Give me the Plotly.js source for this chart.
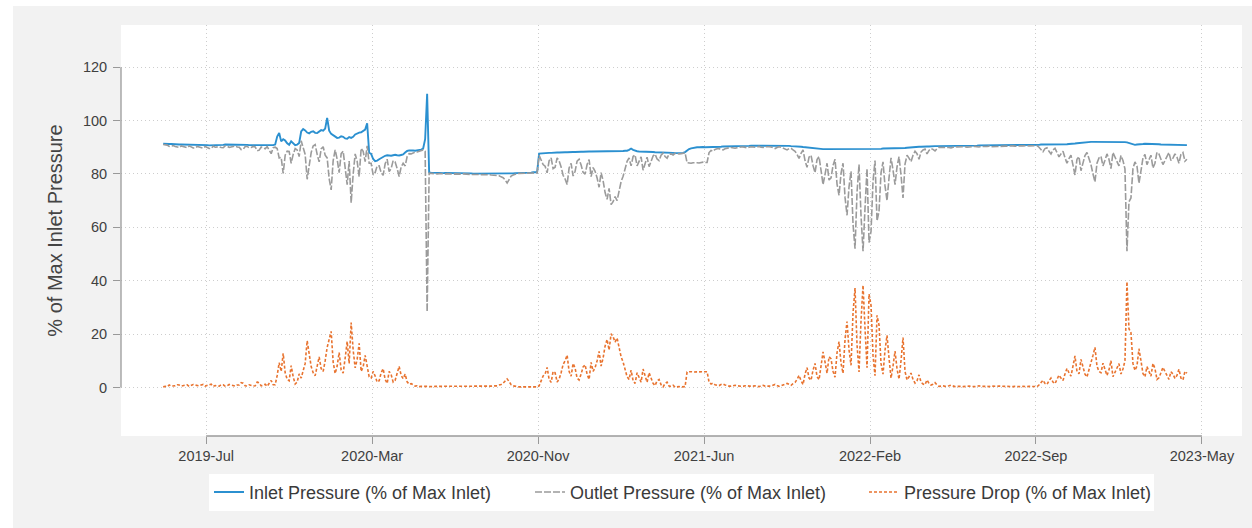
<!DOCTYPE html>
<html>
<head>
<meta charset="utf-8">
<script src="https://cdn.plot.ly/plotly-3.0.1.min.js"></script>
<style>
html,body{margin:0;padding:0;background:#ffffff;}
#chart{position:absolute;left:13px;top:6px;width:1239px;height:522px;}
</style>
</head>
<body>
<div id="chart"></div>
<script>
// ---- data ----
const START_DATE = [2019, 4, 29];   // first reading: 2019-05-29
const STEP_DAYS = 2.795;            // spacing of the readings, days

const tickDates = ['2019-07-28','2020-03-16','2020-11-03','2021-06-23','2022-02-10','2022-09-30','2023-05-20'];
const tickLabels = ['2019-Jul','2020-Mar','2020-Nov','2021-Jun','2022-Feb','2022-Sep','2023-May'];
const yTickVals = [0, 20, 40, 60, 80, 100, 120];

const inletPressure = [
91.3,91.2,91.2,91.2,91.2,91.1,91.1,91.0,91.0,91.0,91.0,90.9,90.9,90.9,90.9,90.8,90.8,90.9,90.9,90.8,90.8,90.8,90.8,90.7,90.7,90.8,90.8,90.8,90.9,90.9,90.9,91.0,91.0,91.0,91.0,91.1,91.1,91.0,91.0,90.9,90.9,90.9,90.9,90.8,90.8,90.8,90.8,90.7,90.7,90.7,90.7,90.6,90.6,90.6,90.6,90.8,
91.0,94.0,95.3,92.2,93.0,92.5,91.5,90.9,92.2,91.3,90.8,91.0,91.6,95.9,96.8,96.3,95.5,95.2,95.8,96.0,95.4,95.3,95.9,96.4,96.2,97.0,101.0,96.2,95.0,94.5,94.2,93.5,93.6,94.1,93.9,93.3,93.2,93.8,93.5,93.9,94.8,95.2,95.5,95.6,96.2,96.6,99.0,88.0,
87.5,85.6,84.8,85.0,85.5,86.0,86.5,86.8,87.0,86.9,86.8,87.0,87.2,87.0,86.9,87.1,87.3,88.0,88.6,88.8,88.9,88.8,88.7,88.8,88.8,89.1,89.5,93.0,
110.0,80.6,
80.5,80.4,80.4,80.4,80.4,80.3,80.3,80.4,80.4,80.3,80.3,80.3,80.3,80.2,80.2,80.3,80.3,80.2,80.2,80.2,80.2,80.1,80.1,80.2,80.2,80.1,80.1,80.1,80.1,80.0,80.0,80.1,80.1,80.0,80.0,80.0,80.0,80.1,80.1,80.1,80.2,80.2,80.3,80.3,80.4,80.4,80.4,80.5,80.5,80.5,80.5,80.6,80.6,80.6,
87.6,87.7,87.8,87.9,87.9,87.9,87.9,88.0,88.0,88.0,88.0,88.1,88.1,88.1,88.1,88.2,88.2,88.2,88.2,88.3,88.3,88.3,88.3,88.4,88.4,88.4,88.4,88.4,88.4,88.5,88.5,88.5,88.5,88.5,88.5,88.6,88.6,88.6,88.5,88.5,88.5,88.6,88.6,88.7,88.7,89.0,89.5,89.0,88.6,88.5,88.4,88.4,88.3,88.3,88.2,88.2,88.2,88.2,88.1,88.1,88.0,88.0,88.0,88.0,87.9,87.9,87.9,87.9,87.8,87.8,87.8,87.8,87.9,88.2,
88.8,89.3,89.6,89.8,89.9,90.0,90.0,90.1,90.1,90.0,90.0,90.0,
90.1,90.1,90.2,90.2,90.2,90.2,90.3,90.3,90.3,90.3,90.4,90.4,90.4,90.4,90.5,90.5,90.5,90.5,90.5,90.5,90.6,90.6,90.6,90.6,90.6,90.6,90.7,90.7,90.7,90.7,90.7,90.7,90.6,90.6,90.6,90.6,90.5,90.5,90.5,90.5,90.4,90.4,
90.4,90.3,90.3,90.2,90.1,90.0,89.9,89.8,89.7,89.6,89.5,89.4,89.4,89.3,89.3,89.3,89.3,89.2,89.2,89.2,89.3,89.2,89.2,89.2,89.3,89.2,89.2,89.2,89.3,89.2,89.2,89.2,89.3,89.3,89.3,89.3,89.4,89.3,89.3,89.3,89.4,89.4,89.4,89.4,89.5,89.5,89.5,89.5,89.5,89.5,89.6,89.6,89.6,89.6,89.7,89.7,89.8,89.9,90.0,90.0,90.1,90.1,90.2,90.2,90.3,90.3,
90.3,90.3,90.4,90.4,90.4,90.4,90.4,90.4,90.5,90.5,90.5,90.5,90.5,90.5,90.5,90.5,90.6,90.6,90.6,90.6,90.6,90.6,90.6,90.6,90.6,90.6,90.7,90.7,90.7,90.7,90.7,90.7,90.7,90.7,90.7,90.7,90.8,90.8,90.8,90.8,90.8,90.8,90.8,90.8,90.8,90.8,90.8,90.8,90.9,90.9,90.9,90.9,90.9,90.9,90.9,90.9,
90.9,91.0,91.0,91.0,90.9,91.0,91.0,91.0,91.0,91.0,91.0,91.0,91.1,91.1,91.1,91.2,91.2,91.3,91.4,91.5,91.6,91.7,91.8,91.9,91.9,92.0,92.0,92.0,92.0,92.0,92.0,92.1,92.1,92.1,92.0,92.0,92.0,92.0,92.0,92.0,91.9,91.9,91.9,91.9,91.8,91.5,91.2,91.0,90.9,91.0,91.0,91.1,91.2,91.3,91.3,91.3,91.2,91.2,91.1,91.1,91.1,91.0,91.0,91.0,91.0,91.0,90.9,90.9,90.9,90.8,90.8,90.8,90.8,90.8,90.8
];

const outletPressure = [
91.0,90.8,90.8,90.3,90.4,90.6,90.3,90.0,89.9,90.5,90.2,90.1,89.8,90.5,90.0,89.7,89.7,90.3,90.1,89.9,89.6,90.3,89.9,89.5,89.5,90.4,90.0,90.2,90.2,89.9,89.8,90.5,90.4,89.9,90.1,90.5,90.5,90.1,90.0,89.1,89.2,90.3,90.3,89.8,89.9,90.3,90.1,88.7,88.9,90.1,89.8,89.4,90.2,89.1,87.6,89.8,
90.0,89.5,86.0,86.2,80.2,87.0,88.5,88.4,84.0,87.3,89.5,89.0,86.5,92.4,90.0,87.3,78.0,83.2,88.0,90.5,91.0,87.3,84.5,89.4,90.2,87.0,86.0,78.2,74.0,85.0,89.0,85.5,80.5,87.6,88.5,82.3,76.0,84.8,69.2,79.9,87.5,84.7,79.0,89.6,88.5,84.6,90.5,84.0,
84.0,79.6,80.5,83.0,83.0,80.5,79.5,83.8,85.5,80.9,82.0,85.0,84.5,82.0,79.0,82.6,84.0,83.0,86.5,87.6,87.5,87.8,88.2,88.2,88.5,88.7,89.0,88.5,
28.4,80.3,
80.2,80.1,80.0,80.0,80.1,80.0,79.9,80.0,80.1,80.0,79.9,79.9,80.0,79.9,79.8,79.9,80.0,79.9,79.9,79.8,79.8,79.8,79.8,79.9,79.9,79.8,79.7,79.7,79.8,79.7,79.6,79.5,79.5,79.4,79.3,78.9,78.6,77.8,76.6,77.9,79.2,79.6,80.0,80.1,80.2,80.2,80.2,80.3,80.3,80.3,80.3,80.4,80.4,80.4,
87.0,85.2,83.5,82.9,80.4,84.9,86.0,82.0,82.5,86.0,84.9,82.6,79.5,78.1,76.0,82.2,84.0,79.2,81.0,84.8,85.5,83.3,80.6,79.9,83.5,85.4,79.0,82.4,81.0,78.5,75.0,80.5,77.5,73.0,70.5,74.6,68.5,69.6,71.5,70.0,73.9,77.1,79.1,81.7,84.7,86.0,83.0,86.5,87.1,83.0,84.9,86.4,81.4,83.8,86.3,82.7,84.5,86.7,87.4,85.6,85.0,87.0,87.8,86.5,85.9,87.4,87.5,87.1,87.7,87.5,87.5,87.6,87.7,87.9,
84.2,84.1,84.0,84.2,84.3,84.2,84.1,84.3,84.4,84.3,84.3,88.0,
88.8,88.5,89.2,89.4,89.5,89.1,89.0,89.4,89.7,89.8,89.9,89.7,89.6,89.8,90.0,90.1,90.1,89.9,89.8,90.0,90.2,90.1,90.0,90.2,90.3,90.0,89.9,90.2,90.3,90.2,90.1,89.8,89.5,89.9,90.2,90.0,89.7,89.3,89.0,89.5,89.6,89.0,
88.5,87.3,85.8,87.7,89.0,85.0,82.5,86.3,87.0,83.1,80.5,85.4,86.5,81.3,76.0,79.8,84.0,77.7,78.5,83.2,85.5,76.2,72.0,80.2,84.0,71.2,64.5,75.2,81.0,61.2,52.0,73.2,83.5,64.3,51.0,67.3,82.0,54.3,58.5,77.3,85.0,62.4,66.0,80.4,84.5,75.5,70.0,78.5,86.0,81.5,76.0,82.6,86.5,79.6,71.0,83.7,87.0,85.9,84.6,87.0,88.5,87.6,85.5,88.2,89.0,89.3,
87.5,88.8,89.5,89.2,88.6,89.5,90.0,89.9,89.9,90.1,90.1,89.9,89.7,90.0,90.2,90.1,90.1,90.2,90.3,90.2,90.0,90.1,90.2,90.3,90.3,90.2,90.1,90.3,90.4,90.3,90.3,90.4,90.2,90.3,90.4,90.3,90.3,90.4,90.5,90.4,90.4,90.5,90.5,90.5,90.4,90.5,90.6,90.5,90.5,90.6,90.6,90.5,90.5,90.6,90.6,90.6,
90.0,89.2,88.3,89.5,89.8,88.5,87.5,89.0,89.6,88.0,86.4,87.5,88.5,86.1,84.0,85.7,87.0,83.3,79.6,85.5,86.5,81.2,84.0,86.9,88.0,85.5,83.5,80.0,77.0,84.0,86.0,86.6,83.0,85.1,87.5,85.5,82.0,88.0,86.5,84.5,83.0,86.9,85.0,81.9,51.0,69.5,71.0,82.0,84.5,83.0,76.5,81.1,86.0,87.3,83.5,85.3,87.0,82.2,84.0,88.1,87.5,85.5,83.5,85.0,86.5,88.0,85.0,85.9,87.5,86.3,84.0,87.3,88.0,84.8,85.5
];

const pressureDrop = [
0.2,0.4,0.3,0.9,0.5,0.5,0.6,1.0,0.9,0.5,0.6,0.8,1.0,0.4,0.7,1.1,0.9,0.6,0.6,0.9,1.1,0.5,0.8,1.2,1.2,0.4,0.7,0.6,0.5,1.0,1.0,0.5,0.6,1.1,0.8,0.6,0.5,0.9,0.9,1.8,1.6,0.6,0.5,1.0,0.8,0.5,0.6,2.0,1.7,0.6,0.8,1.2,0.4,1.5,2.6,1.0,
1.0,4.5,9.3,6.0,12.8,5.5,3.0,2.5,8.2,4.0,1.3,2.0,5.1,3.5,6.8,9.0,17.5,12.0,7.8,5.5,4.4,8.0,11.4,7.0,6.0,10.0,15.0,18.0,21.0,9.5,5.2,8.0,13.1,6.5,5.4,11.0,17.2,9.0,24.3,14.0,7.3,10.5,16.5,6.0,7.7,12.0,8.5,4.0,
3.5,6.0,4.3,2.0,2.5,5.5,7.0,3.0,1.5,6.0,4.8,2.0,2.7,5.0,7.9,4.5,3.3,5.0,2.1,1.2,1.4,1.0,0.5,0.6,0.3,0.4,0.5,0.4,
0.4,0.3,
0.3,0.3,0.4,0.4,0.3,0.3,0.4,0.4,0.3,0.3,0.4,0.4,0.3,0.3,0.4,0.4,0.3,0.3,0.4,0.4,0.4,0.3,0.3,0.3,0.3,0.3,0.4,0.4,0.3,0.3,0.5,0.6,0.6,0.6,0.9,1.1,1.6,2.3,3.2,2.2,1.0,0.6,0.4,0.2,0.2,0.2,0.2,0.2,0.2,0.2,0.2,0.2,0.2,0.2,
0.6,2.5,4.3,5.0,7.5,3.0,1.9,6.0,5.5,2.0,3.1,5.5,8.6,10.0,12.1,6.0,4.2,9.0,7.2,3.5,2.8,5.0,7.7,8.5,4.9,3.0,9.4,6.0,7.4,10.0,13.5,8.0,11.0,15.5,18.0,14.0,20.1,19.0,17.0,18.5,14.6,11.5,9.5,7.0,4.0,3.0,6.5,2.5,1.5,5.5,3.5,2.0,6.9,4.5,1.9,5.5,3.7,1.5,0.7,2.5,3.0,1.0,0.2,1.5,2.0,0.5,0.4,0.8,0.1,0.3,0.3,0.2,0.2,0.3,
5.8,5.9,5.9,5.8,5.8,5.9,6.0,5.9,5.8,5.9,5.9,2.0,
1.3,1.6,1.0,0.8,0.7,1.1,1.3,0.9,0.6,0.5,0.5,0.7,0.8,0.6,0.5,0.4,0.4,0.6,0.7,0.5,0.4,0.5,0.6,0.4,0.3,0.6,0.8,0.5,0.4,0.5,0.6,0.9,1.1,0.7,0.4,0.6,0.8,1.2,1.5,1.0,0.8,1.4,
1.9,3.0,4.5,2.5,1.1,5.0,7.4,3.5,2.7,6.5,9.0,4.0,2.9,8.0,13.3,9.5,5.3,11.5,10.7,6.0,3.8,13.0,17.2,9.0,5.3,18.0,24.7,14.0,8.3,28.0,37.2,16.0,5.8,25.0,38.3,22.0,7.4,35.0,30.8,12.0,4.4,27.0,23.4,9.0,5.0,14.0,19.5,11.0,3.5,8.0,13.6,7.0,3.1,10.0,18.7,6.0,2.8,4.0,5.4,3.0,1.6,2.5,4.7,2.0,1.3,1.0,
2.8,1.5,0.9,1.2,1.8,0.9,0.4,0.5,0.6,0.4,0.4,0.6,0.8,0.5,0.3,0.4,0.5,0.4,0.3,0.4,0.6,0.5,0.4,0.3,0.3,0.4,0.6,0.4,0.3,0.4,0.4,0.3,0.5,0.4,0.3,0.4,0.5,0.4,0.3,0.4,0.4,0.3,0.3,0.3,0.4,0.3,0.2,0.3,0.4,0.3,0.3,0.4,0.4,0.3,0.3,0.3,
0.9,1.8,2.7,1.5,1.1,2.5,3.5,2.0,1.4,3.0,4.6,3.5,2.6,5.0,7.1,5.5,4.2,8.0,11.8,6.0,5.1,10.5,7.8,5.0,3.9,6.5,8.5,12.0,15.0,8.0,6.0,5.5,9.1,7.0,4.5,6.5,10.0,4.0,5.5,7.5,8.9,5.0,6.9,10.0,39.6,22.0,20.5,9.0,6.4,8.0,14.5,10.0,5.2,4.0,7.8,6.0,4.2,9.0,7.1,3.0,3.6,5.5,7.5,6.0,4.5,3.0,5.9,5.0,3.4,4.5,6.8,3.5,2.8,6.0,5.3
];

// ---- build dates ----
function pad(n){return (n<10?'0':'')+n;}
function fmt(ms){
  const d = new Date(ms);
  return d.getUTCFullYear()+'-'+pad(d.getUTCMonth()+1)+'-'+pad(d.getUTCDate())+' '+pad(d.getUTCHours())+':'+pad(d.getUTCMinutes())+':00';
}
const t0 = Date.UTC(START_DATE[0], START_DATE[1], START_DATE[2]);
const dates = inletPressure.map((_, i) => fmt(t0 + i*STEP_DAYS*86400000));

const FONT = 'Liberation Sans, Arial, sans-serif';

const traces = [
  {x: dates, y: inletPressure, type: 'scatter', mode: 'lines',
   name: 'Inlet Pressure (% of Max Inlet)', legendwidth: 276,
   line: {color: '#2b90d0', width: 1.9}},
  {x: dates, y: outletPressure, type: 'scatter', mode: 'lines',
   name: 'Outlet Pressure (% of Max Inlet)', legendwidth: 289,
   line: {color: '#9b9b9b', width: 1.6, dash: '7px,2px'}},
  {x: dates, y: pressureDrop, type: 'scatter', mode: 'lines',
   name: 'Pressure Drop (% of Max Inlet)', legendwidth: 245,
   line: {color: '#e8732f', width: 1.6, dash: '3px,2px'}}
];

const layout = {
  width: 1239, height: 522,
  paper_bgcolor: '#f2f2f2', plot_bgcolor: '#ffffff',
  margin: {l: 108, r: 10, t: 19, b: 92},
  font: {family: FONT, color: '#404040'},
  showlegend: true,
  legend: {orientation: 'h', x: 0.5, xanchor: 'center', y: -0.092, yanchor: 'top',
           bgcolor: '#ffffff', borderwidth: 0, font: {family: FONT, size: 18, color: '#3a3a3a'},
           traceorder: 'normal'},
  xaxis: {type: 'date', range: ['2019-03-31', '2023-07-15'],
          tickmode: 'array', tickvals: tickDates, ticktext: tickLabels,
          ticks: 'outside', ticklen: 7, tickcolor: '#999999', tickwidth: 1,
          showgrid: true, gridcolor: '#cdcdcd', griddash: '1px,3px', gridwidth: 1,
          showline: false, zeroline: false,
          tickfont: {family: FONT, size: 14.5, color: '#404040'}},
  yaxis: {range: [-18.2, 135.8], tickmode: 'array', tickvals: yTickVals,
          ticks: 'outside', ticklen: 7, tickcolor: '#999999', tickwidth: 1,
          showgrid: true, gridcolor: '#cdcdcd', griddash: '1px,3px', gridwidth: 1,
          showline: false, zeroline: false, ticklabelstandoff: 3,
          tickfont: {family: FONT, size: 14.5, color: '#404040'},
          title: {text: '% of Max Inlet Pressure', standoff: 14,
                  font: {family: FONT, size: 20, color: '#444444'}}},
  shapes: [
    {type: 'line', xref: 'x', yref: 'paper', x0: tickDates[0], x1: tickDates[tickDates.length-1],
     y0: 0, y1: 0, line: {color: '#9a9a9a', width: 1.3}},
    {type: 'line', xref: 'paper', yref: 'y', x0: 0, x1: 0,
     y0: yTickVals[0], y1: yTickVals[yTickVals.length-1], line: {color: '#9a9a9a', width: 1.3}}
  ]
};

Plotly.newPlot('chart', traces, layout, {staticPlot: true, displayModeBar: false});
</script>
</body>
</html>
